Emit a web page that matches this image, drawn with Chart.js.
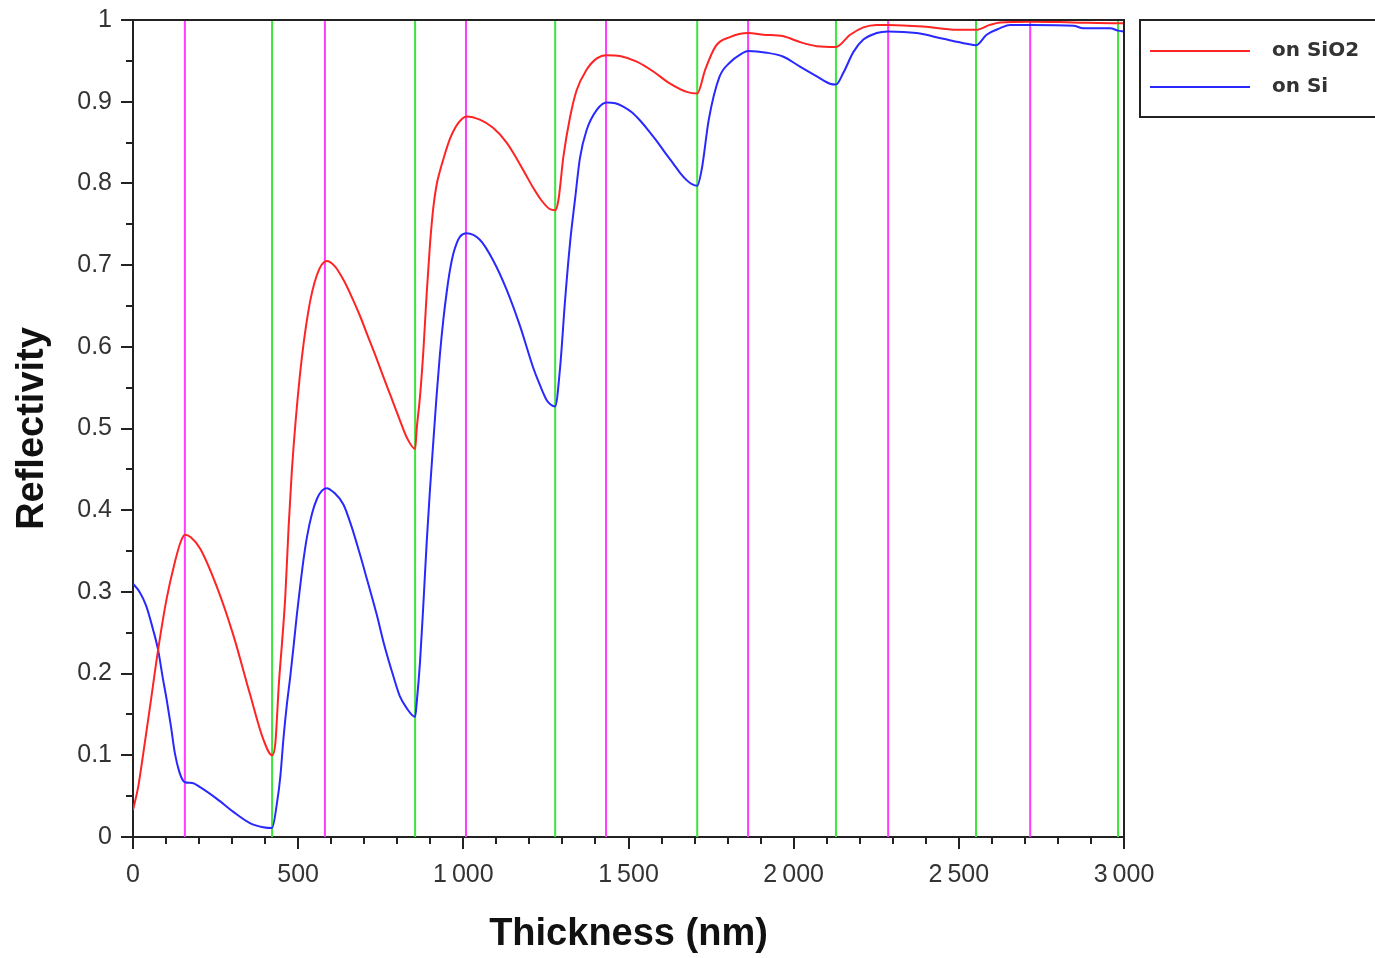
<!DOCTYPE html>
<html>
<head>
<meta charset="utf-8">
<script src="https://cdn.jsdelivr.net/npm/chart.js@4.4.1/dist/chart.umd.min.js"></script>
<style>
  body { margin: 0; background: #fff; }
  #wrap { width: 1375px; height: 958px; }
</style>
</head>
<body>
<div id="wrap"><canvas id="refl_graph" width="1375" height="958"></canvas></div>
<script>
// reflectivity, thickness in nm
var sio2Thickness = [0, 16, 31, 51, 76, 102, 127, 145, 157, 175, 203, 253, 303, 354, 394, 421,
  431, 436, 441, 451, 461, 471, 481, 505, 531, 556, 586, 610, 637, 660, 687, 710, 738, 760, 778, 808, 830, 854,
  859, 869, 879, 889, 899, 909, 919, 929, 939, 960, 985, 1010, 1050, 1090, 1131, 1162, 1190, 1211, 1235, 1260, 1278,
  1288, 1303, 1323, 1343, 1373, 1404, 1434, 1474, 1525, 1575, 1626, 1676, 1708,
  1732, 1764, 1807, 1862, 1908, 1969, 2019, 2070, 2128, 2171, 2211, 2251, 2286,
  2392, 2494, 2552, 2594, 2625, 2716, 2847, 2982, 3000];
var sio2Refl = [0.033, 0.062, 0.102, 0.158, 0.229, 0.292, 0.337, 0.362, 0.370, 0.367, 0.353, 0.307, 0.248, 0.175, 0.120, 0.100,
  0.115, 0.147, 0.184, 0.237, 0.294, 0.379, 0.449, 0.564, 0.644, 0.687, 0.705, 0.699, 0.682, 0.663, 0.638, 0.614, 0.585, 0.561, 0.542, 0.510, 0.488, 0.475,
  0.500, 0.540, 0.595, 0.665, 0.725, 0.770, 0.798, 0.815, 0.829, 0.855, 0.874, 0.882, 0.878, 0.868, 0.850, 0.830, 0.810, 0.795, 0.780, 0.769, 0.767,
  0.780, 0.833, 0.881, 0.914, 0.939, 0.953, 0.957, 0.956, 0.949, 0.937, 0.922, 0.912, 0.910,
  0.939, 0.968, 0.979, 0.984, 0.982, 0.980, 0.973, 0.968, 0.967, 0.982, 0.991, 0.994, 0.994,
  0.992, 0.988, 0.988, 0.994, 0.997, 0.998, 0.997, 0.996, 0.996];

var siThickness = [0, 20, 40, 60, 76, 90, 102, 115, 127, 140, 150, 157, 180, 203, 253, 303, 354, 394, 421,
  436, 446, 456, 466, 476, 486, 496, 507, 517, 527, 542, 557, 572, 586, 610, 637, 660, 687, 710, 738, 760, 788, 808, 828, 854,
  859, 869, 879, 889, 899, 909, 919, 929, 940, 950, 960, 969, 980, 990, 1010, 1050, 1090, 1131, 1172, 1211, 1232, 1252, 1265, 1278,
  1293, 1308, 1323, 1338, 1353, 1373, 1404, 1434, 1460, 1484, 1510, 1535, 1560, 1585, 1610, 1636, 1656, 1676, 1692, 1708,
  1722, 1743, 1775, 1807, 1839, 1862, 1918, 1969, 2019, 2070, 2110, 2128, 2150, 2181, 2211, 2251, 2286,
  2372, 2453, 2524, 2552, 2584, 2625, 2655, 2716, 2847, 2877, 2958, 2982, 3000];
var siRefl = [0.310, 0.300, 0.283, 0.255, 0.229, 0.195, 0.168, 0.135, 0.102, 0.080, 0.070, 0.067, 0.066, 0.061, 0.047, 0.031, 0.017, 0.012, 0.011,
  0.042, 0.074, 0.123, 0.163, 0.196, 0.233, 0.272, 0.310, 0.342, 0.368, 0.396, 0.414, 0.424, 0.427, 0.421, 0.407, 0.382, 0.346, 0.313, 0.272, 0.236, 0.197, 0.172, 0.158, 0.147,
  0.165, 0.215, 0.285, 0.360, 0.425, 0.483, 0.540, 0.590, 0.635, 0.668, 0.695, 0.713, 0.727, 0.735, 0.739, 0.731, 0.706, 0.670, 0.625, 0.575, 0.553, 0.535, 0.529, 0.527,
  0.575, 0.657, 0.727, 0.780, 0.831, 0.865, 0.890, 0.899, 0.898, 0.894, 0.887, 0.877, 0.865, 0.852, 0.838, 0.824, 0.813, 0.804, 0.799, 0.797,
  0.818, 0.878, 0.930, 0.948, 0.958, 0.962, 0.960, 0.955, 0.943, 0.931, 0.922, 0.921, 0.935, 0.961, 0.976, 0.984, 0.986,
  0.984, 0.977, 0.971, 0.969, 0.982, 0.990, 0.994, 0.994, 0.993, 0.990, 0.990, 0.987, 0.986];

// marker lines (maxima / minima positions)
var magentaLines = [157, 581, 1008, 1432, 1862, 2286, 2716];
var greenLines = [421, 854, 1278, 1708, 2128, 2552, 2982];

function toPoints(xs, ys) {
  var pts = [];
  for (var i in xs) {
    pts.push({x: xs[i], y: ys[i]});
  }
  return pts;
}

var datasets = [
  {
    label: "on SiO2",
    data: toPoints(sio2Thickness, sio2Refl),
    borderColor: "#ff2424",
    borderWidth: 2,
    pointRadius: 0,
    fill: false,
    cubicInterpolationMode: "monotone",
    order: 0
  },
  {
    label: "on Si",
    data: toPoints(siThickness, siRefl),
    borderColor: "#2828ff",
    borderWidth: 2,
    pointRadius: 0,
    fill: false,
    cubicInterpolationMode: "monotone",
    order: 0
  }
];

magentaLines.forEach(function(v) {
  datasets.push({ label: "", data: [{x: v, y: 0}, {x: v, y: 1}], borderColor: "#ff3cff",
    borderWidth: 2, pointRadius: 0, fill: false, order: 1 });
});
greenLines.forEach(function(v) {
  datasets.push({ label: "", data: [{x: v, y: 0}, {x: v, y: 1}], borderColor: "#3ce63c",
    borderWidth: 2, pointRadius: 0, fill: false, order: 1 });
});

function fmtThousands(v) {
  if (v >= 1000) {
    var rest = String(v % 1000);
    while (rest.length < 3) rest = "0" + rest;
    return Math.floor(v / 1000) + "\u2009" + rest;
  }
  return String(v);
}

// box, minor ticks and legend
var extras = {
  id: "extras",
  afterDatasetsDraw: function(chart) {
    var ctx = chart.ctx;
    var a = chart.chartArea;
    var xs = chart.scales.x, ys = chart.scales.y;
    ctx.save();
    ctx.strokeStyle = "#222";
    ctx.lineWidth = 2;
    ctx.beginPath();
    ctx.moveTo(a.left, a.top);
    ctx.lineTo(a.right, a.top);
    ctx.lineTo(a.right, a.bottom);
    ctx.stroke();

    ctx.beginPath();
    for (var t = 0.05; t < 1; t += 0.1) {
      var py = Math.round(ys.getPixelForValue(t));
      ctx.moveTo(a.left - 7, py);
      ctx.lineTo(a.left, py);
    }
    for (var n = 100; n < 3000; n += 100) {
      if (n % 500 === 0) continue;
      var px = Math.round(xs.getPixelForValue(n));
      ctx.moveTo(px, a.bottom);
      ctx.lineTo(px, a.bottom + 7);
    }
    ctx.stroke();

    // legend
    ctx.strokeRect(1140, 20, 260, 97);
    ctx.font = "bold 20px 'DejaVu Sans'";
    ctx.textBaseline = "middle";
    ctx.fillStyle = "#333";
    [0, 1].forEach(function(i) {
      var ds = chart.data.datasets[i];
      var ly = i === 0 ? 51 : 87;
      ctx.strokeStyle = ds.borderColor;
      ctx.lineWidth = 2;
      ctx.beginPath();
      ctx.moveTo(1150, ly);
      ctx.lineTo(1250, ly);
      ctx.stroke();
      ctx.fillText(ds.label, 1272, ly);
    });
    ctx.restore();
  }
};

var ctx = document.getElementById("refl_graph");

var LineGraph = new Chart(ctx, {
  type: "line",
  data: { datasets: datasets },
  plugins: [extras],
  options: {
    responsive: false,
    animation: false,
    layout: { padding: { left: 0, top: 20, right: 251, bottom: 0 } },
    plugins: {
      legend: { display: false },
      tooltip: { enabled: false }
    },
    scales: {
      x: {
        type: "linear",
        min: 0,
        max: 3000,
        afterFit: function(scale) {
          scale.height = 121;
          scale.paddingLeft = 0;
          scale.paddingRight = 0;
        },
        ticks: {
          stepSize: 500,
          padding: 11,
          color: "#333",
          font: { family: "'Liberation Sans', Arial", size: 25 },
          callback: function(v) { return fmtThousands(v); }
        },
        grid: { drawOnChartArea: false, tickLength: 12, color: "#222", lineWidth: 2 },
        border: { color: "#222", width: 2 },
        title: {
          display: true,
          text: "Thickness (nm)",
          color: "#111",
          font: { family: "'Liberation Sans', Arial", size: 38, weight: "bold", lineHeight: 1.2 },
          padding: { top: 0, bottom: 1 }
        }
      },
      y: {
        min: 0,
        max: 1,
        afterFit: function(scale) {
          scale.width = 133;
          scale.paddingTop = 0;
          scale.paddingBottom = 0;
        },
        ticks: {
          stepSize: 0.1,
          padding: 9,
          color: "#333",
          font: { family: "'Liberation Sans', Arial", size: 25 },
          callback: function(v) { return String(Math.round(v * 10) / 10); }
        },
        grid: { drawOnChartArea: false, tickLength: 12, color: "#222", lineWidth: 2 },
        border: { color: "#222", width: 2 },
        title: {
          display: true,
          text: "Reflectivity",
          color: "#111",
          font: { family: "'Liberation Sans', Arial", size: 38, weight: "bold", lineHeight: 1.2 },
          padding: { top: 10, bottom: 0 }
        }
      }
    }
  }
});
</script>
</body>
</html>
